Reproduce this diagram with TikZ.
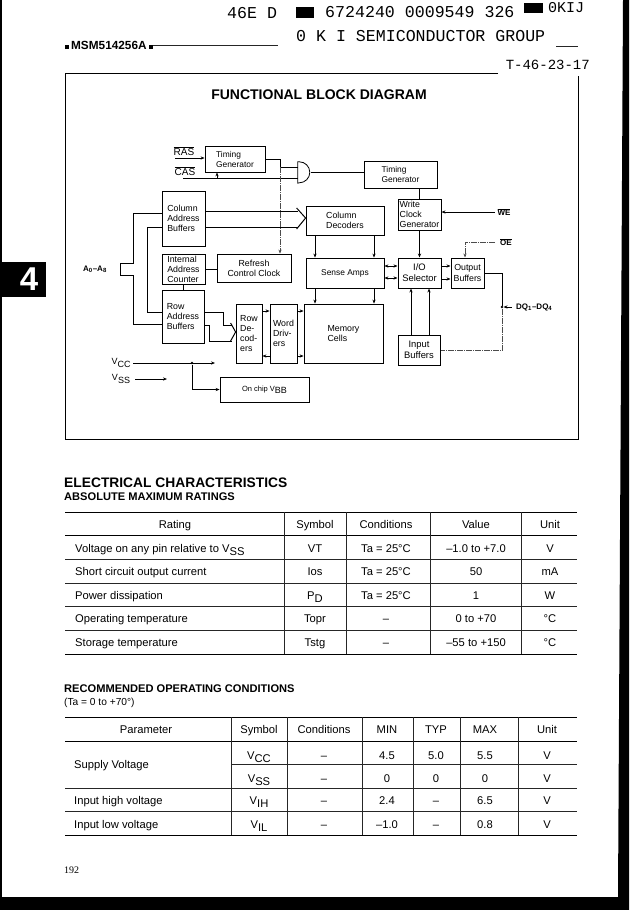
\documentclass[tikz,border=0pt]{standalone}
\usepackage{fontspec}
\setmainfont{Liberation Sans}
\newfontfamily\scanmono{Liberation Mono}
\newfontfamily\pagenum{Liberation Serif}
\usetikzlibrary{arrows.meta}
\newcommand{\lowsub}[2]{#1\raisebox{-0.28em}{#2}}
\begin{document}
\begin{tikzpicture}[
        x=1pt, y=-1pt,
        font=\footnotesize,
        >={Stealth[length=4pt,width=3.2pt]},
        block/.style={draw, line width=0.8pt, inner sep=0pt, align=left, font=\fontsize{8.8}{10}\selectfont},
        heavyblock/.style={block, line width=1pt},
        midblock/.style={align=center, font=\fontsize{9.4}{11}\selectfont},
        wire/.style={draw, line width=0.7pt},
        bus/.style={draw, line width=1pt},
        faintwire/.style={draw=black!70, line width=0.6pt, dash pattern=on 6pt off 1pt on 1pt off 1pt},
        pinlabel/.style={font=\bfseries\fontsize{8}{9}\selectfont},
        siglabel/.style={font=\fontsize{10}{11}\selectfont},
        powerlabel/.style={font=\fontsize{9}{10}\selectfont},
        dotnode/.style={circle, fill, inner sep=0pt, minimum size=2.6pt},
        scanline/.style={font=\scanmono\fontsize{16.6}{18}\selectfont, inner xsep=0pt},
        rule/.style={draw, line width=1pt},
        thinrule/.style={draw=black!85, line width=0.8pt},
        cell/.style={font=\fontsize{11.2}{12}\selectfont, inner sep=0pt, text height=8pt, text depth=0pt},
        leftcell/.style={cell, anchor=west},
        headnode/.style={anchor=west, inner xsep=0pt, font=\bfseries\fontsize{11.1}{13}\selectfont}
    ]
      \useasboundingbox (0,0) rectangle (629,910);

      % --- Scan edges and section tab ---
      \fill (0,0) rectangle (2,897);
      \fill (623,0) -- (629,0) -- (629,910) -- (0,910) -- (0,897) -- (618,897) -- cycle;
      \node[fill=black, text=white, minimum width=46pt, minimum height=35pt, inner sep=0pt, font=\bfseries\fontsize{33}{33}\selectfont] (tabfour) at (23,279.5) {\hspace*{12pt}4};

      % --- Header ---
      \node[scanline, anchor=west] (codeA) at (227,13) {46E D};
      \fill (296,7) rectangle (314,18);
      \node[scanline, anchor=west] (codeB) at (325,12) {6724240 0009549 326};
      \fill (524,3) rectangle (543,13);
      \node[scanline, anchor=west, font=\scanmono\fontsize{15}{18}\selectfont] (codeC) at (548,8) {0KIJ};
      \node[scanline, anchor=west] (groupname) at (296,36) {0 K I SEMICONDUCTOR GROUP};
      \draw[thinrule] (556,46) -- (578,46);
      \node[anchor=west, inner xsep=0pt, font=\bfseries\fontsize{11.8}{13}\selectfont] (partno) at (65,45) {\rule{4pt}{4pt}\,MSM514256A\,\rule{4pt}{4pt}};
      \draw[thinrule] (partno.east) -- (278,45);
      \node[scanline, anchor=east, font=\scanmono\fontsize{14}{16}\selectfont] (stamp) at (590,65) {T-46-23-17};

      % --- Diagram frame ---
      \draw[line width=0.9pt] (498,73) -- (65,73) -- (65,439) -- (578,439) -- (578,76);
      \node[font=\bfseries\fontsize{14}{16}\selectfont] (title) at (319,95) {FUNCTIONAL BLOCK DIAGRAM};

      % --- Blocks ---
      \node[block, minimum width=60pt, minimum height=26pt, font=\fontsize{8.4}{10}\selectfont] (timA) at (235,159) {Timing\\Generator};
      \node[block, minimum width=43pt, minimum height=55pt] (colbuf) at (183.5,218.5) {Column\\Address\\Buffers};
      \node[heavyblock, minimum width=43pt, minimum height=30pt] (intcnt) at (183.5,269) {Internal\\Address\\Counter};
      \node[block, minimum width=42pt, minimum height=53pt] (rowbuf) at (183,316.5) {Row\\Address\\Buffers};
      \node[block, minimum width=74pt, minimum height=28pt, align=center] (refresh) at (254,268) {Refresh\\Control Clock};
      \node[block, minimum width=78pt, minimum height=29pt] (coldec) at (345,220.5) {Column\\Decoders};
      \node[block, minimum width=73pt, minimum height=27pt, font=\fontsize{8.4}{10}\selectfont] (timB) at (400.5,174.5) {Timing\\Generator};
      \node[heavyblock, minimum width=43pt, minimum height=31pt] (writeclk) at (419.5,214.5) {Write\\Clock\\Generator};
      \node[block, minimum width=78pt, minimum height=30pt, font=\fontsize{8.4}{10}\selectfont] (sense) at (345,273) {Sense Amps};
      \node[heavyblock, midblock, minimum width=43pt, minimum height=30pt] (iosel) at (419.5,273) {I/O\\Selector};
      \node[heavyblock, midblock, minimum width=33pt, minimum height=30pt, font=\fontsize{8.8}{10.5}\selectfont] (outbuf) at (467.5,273) {Output\\Buffers};
      \node[block, minimum width=26pt, minimum height=59pt] (rowdec) at (249,333.5) {Row\\De-\\cod-\\ers};
      \node[block, minimum width=27pt, minimum height=59pt] (word) at (283.5,333.5) {Word\\Driv-\\ers};
      \node[block, minimum width=79pt, minimum height=59pt] (mem) at (343.5,333.5) {Memory\\Cells};
      \node[heavyblock, midblock, minimum width=42pt, minimum height=30pt] (inbuf) at (419,350) {Input\\Buffers};
      \node[block, minimum width=89pt, minimum height=25pt, font=\fontsize{7.5}{9}\selectfont] (onchip) at (264.5,389.5) {On chip V\raisebox{-0.25em}{\small BB}};
      \node[minimum width=12pt, minimum height=21pt, inner sep=0pt] (gate) at (304,172.5) {};
      \draw[line width=0.8pt] (gate.north west) -- ++(1.5,0) arc (-90:90:10.5) -- (gate.south west) -- cycle;

      % --- Pin labels ---
      \node[siglabel] (raslabel) at (184,151) {$\overline{\mbox{RAS}}$};
      \node[siglabel] (caslabel) at (185,171) {$\overline{\mbox{CAS}}$};
      \node[pinlabel] (welabel) at (504,212) {$\overline{\mbox{WE}}$};
      \node[pinlabel] (oelabel) at (506,242) {$\overline{\mbox{OE}}$};
      \node[pinlabel, anchor=west, inner xsep=0pt] (dqlabel) at (516,307) {DQ\textsubscript{1}--DQ\textsubscript{4}};
      \node[pinlabel] (addrlabel) at (95,269) {A\textsubscript{0}--A\textsubscript{8}};
      \node[powerlabel] (vcclabel) at (121,363) {\lowsub{V}{\small CC}};
      \node[powerlabel] (vsslabel) at (121,379) {\lowsub{V}{\small SS}};

      % --- Free line ends ---
      \coordinate (rasin) at (175,158);
      \coordinate (casin) at (183,178);
      \coordinate (casbranch) at (217,178);
      \coordinate (gatea) at (298,167);
      \coordinate (gateb) at (298,178);
      \coordinate (gateout) at (310.5,172.5);
      \coordinate (wein) at (495,212);
      \coordinate (oein) at (495,242);
      \coordinate (vccin) at (133,363);
      \coordinate (vccout) at (215,363);
      \coordinate (vssin) at (135,379);
      \coordinate (vssout) at (167,379);
      \node[dotnode] (vccdot) at (192,363) {};
      \node[dotnode] (dqdot) at (502,307) {};

      % --- Timing and control ---
      \draw[wire, ->] (rasin) -- (timA.west |- rasin);
      \draw[wire] (casin) -- (gateb);
      \draw[wire, ->] (casbranch) -- (casbranch |- timA.south);
      \draw[wire] (timA.east) -- (280,0 |- timA.east) -- (280,0 |- gatea) -- (gatea);
      \draw[wire] (gateout) -- (timB.west |- gateout);
      \draw[faintwire, ->] (280,0 |- gatea) -- (280,0 |- refresh.north);
      \draw[wire] (timB.south -| writeclk) -- (writeclk.north);
      \draw[wire, <-] (writeclk.east |- wein) -- (wein);
      \draw[faintwire, ->] (oein) -- (465,0 |- oein) -- (465,0 |- outbuf.north);
      \draw[wire, ->] (writeclk.south) -- (iosel.north);
      \draw[wire] (intcnt.east) -- (refresh.west |- intcnt.east);
      \draw[wire] (intcnt.south) -- (rowbuf.north -| intcnt);

      % --- Address lines ---
      \draw[bus] (120,263) -- (133,263) -- (133,213) -- (colbuf.west |- 0,213);
      \draw[bus] (120,275) -- (133,275) -- (133,324) -- (rowbuf.west |- 0,324);
      \draw[bus] (120,263) -- (120,275);
      \draw[bus] (colbuf.west |- 0,227) -- (147,227) -- (147,312) -- (rowbuf.west |- 0,312);

      % --- Column and row buses ---
      \draw[bus] (colbuf.east |- 0,211) -- (298,211);
      \draw[bus] (colbuf.east |- 0,227) -- (298,227);
      \draw[bus] ([shift={(-9,-12.5)}]coldec.west) -- ([yshift=2.5pt]coldec.west) -- ([shift={(-9,8.5)}]coldec.west);
      \draw[bus] (rowbuf.east |- 0,312) -- (223,312) -- (223,325) -- (232,325);
      \draw[bus] (rowbuf.east |- 0,325) -- (209,325) -- (209,341) -- (232,341);
      \draw[bus] ([shift={(-5,-10.5)}]rowdec.west) -- ([yshift=1.5pt]rowdec.west) -- ([shift={(-5,7.5)}]rowdec.west);

      % --- Data path ---
      \draw[wire, ->] (315,0 |- coldec.south) -- (315,0 |- sense.north);
      \draw[wire, ->] (374,0 |- coldec.south) -- (374,0 |- sense.north);
      \draw[wire, ->] (315,0 |- sense.south) -- (315,0 |- mem.north);
      \draw[wire, ->] (374,0 |- sense.south) -- (374,0 |- mem.north);
      \draw[wire, <->] (sense.east |- 0,266) -- (iosel.west |- 0,266);
      \draw[wire, <->] (sense.east |- 0,278) -- (iosel.west |- 0,278);
      \draw[wire, ->] (iosel.east |- 0,266) -- (outbuf.west |- 0,266);
      \draw[wire, ->] (iosel.east |- 0,279) -- (outbuf.west |- 0,279);
      \draw[wire, ->] (411,0 |- inbuf.north) -- (411,0 |- iosel.south);
      \draw[wire, ->] (429,0 |- inbuf.north) -- (429,0 |- iosel.south);
      \draw[wire] (outbuf.east) -- (dqdot |- outbuf.east) -- (dqdot);
      \draw[wire, <-] (dqdot) -- (512,307);
      \draw[faintwire] (dqdot) -- (dqdot |- inbuf.east) -- (inbuf.east);

      % --- Decoder to array ---
      \draw[wire, ->] (rowdec.east |- 0,311) -- (word.west |- 0,311);
      \draw[wire, <-] (rowdec.east |- 0,356) -- (word.west |- 0,356);
      \draw[wire, ->] (word.east |- 0,311) -- (mem.west |- 0,311);
      \draw[wire, ->] (word.east |- 0,356) -- (mem.west |- 0,356);

      % --- Power ---
      \draw[wire, ->] (vccin) -- (vccout);
      \draw[wire] (vccdot) -- (vccdot |- onchip.west);
      \draw[wire, ->] (vccdot |- onchip.west) -- (onchip.west);
      \draw[wire, ->] (vssin) -- (vssout);

      % --- Electrical characteristics ---
      \node[headnode, font=\bfseries\fontsize{13.8}{15}\selectfont] (elechead) at (64,483) {ELECTRICAL CHARACTERISTICS};
      \node[headnode] (abshead) at (64,497) {ABSOLUTE MAXIMUM RATINGS};

      \draw[rule] (65,512) -- (577,512);
      \draw[rule] (65,535.5) -- (577,535.5);
      \draw[thinrule] (65,559) -- (577,559);
      \draw[thinrule] (65,583) -- (577,583);
      \draw[thinrule] (65,606) -- (577,606);
      \draw[thinrule] (65,630) -- (577,630);
      \draw[rule] (65,654) -- (577,654);
      \draw[thinrule] (284,512) -- (284,654);
      \draw[thinrule] (346,512) -- (346,654);
      \draw[thinrule] (430,512) -- (430,654);
      \draw[thinrule] (521,512) -- (521,654);

      \node[cell] (hrating) at (175,524) {Rating};
      \node[cell] (hsymbol) at (315,524) {Symbol};
      \node[cell] (hcond) at (386,524) {Conditions};
      \node[cell] (hvalue) at (476,524) {Value};
      \node[cell] (hunit) at (550,524) {Unit};

      \node[leftcell] (ra) at (75,548) {Voltage on any pin relative to \lowsub{V}{SS}};
      \node[cell] (rb) at (315,548) {VT};
      \node[cell] (rc) at (386,548) {Ta = 25°C};
      \node[cell] (rd) at (476,548) {--1.0 to +7.0};
      \node[cell] (re) at (550,548) {V};

      \node[leftcell] (sa) at (75,571) {Short circuit output current};
      \node[cell] (sb) at (315,571) {Ios};
      \node[cell] (sc) at (386,571) {Ta = 25°C};
      \node[cell] (sd) at (476,571) {50};
      \node[cell] (se) at (550,571) {mA};

      \node[leftcell] (ta) at (75,595) {Power dissipation};
      \node[cell] (tb) at (315,595) {\lowsub{P}{D}};
      \node[cell] (tc) at (386,595) {Ta = 25°C};
      \node[cell] (td) at (476,595) {1};
      \node[cell] (te) at (550,595) {W};

      \node[leftcell] (ua) at (75,618) {Operating temperature};
      \node[cell] (ub) at (315,618) {Topr};
      \node[cell] (uc) at (386,618) {--};
      \node[cell] (ud) at (476,618) {0 to +70};
      \node[cell] (ue) at (550,618) {°C};

      \node[leftcell] (va) at (75,642) {Storage temperature};
      \node[cell] (vb) at (315,642) {Tstg};
      \node[cell] (vc) at (386,642) {--};
      \node[cell] (vd) at (476,642) {--55 to +150};
      \node[cell] (ve) at (550,642) {°C};

      % --- Recommended operating conditions ---
      \node[headnode] (rechead) at (64,689) {RECOMMENDED OPERATING CONDITIONS};
      \node[headnode, font=\fontsize{10.2}{12}\selectfont] (recnote) at (64,703) {(Ta = 0 to +70°)};

      \draw[rule] (65,717) -- (577,717);
      \draw[rule] (65,741) -- (577,741);
      \draw[thinrule] (231,764) -- (577,764);
      \draw[thinrule] (65,788) -- (577,788);
      \draw[thinrule] (65,811) -- (577,811);
      \draw[rule] (65,835) -- (577,835);
      \draw[thinrule] (231,717) -- (231,835);
      \draw[thinrule] (287,717) -- (287,835);
      \draw[thinrule] (362,717) -- (362,835);
      \draw[thinrule] (413,717) -- (413,835);
      \draw[thinrule] (460,717) -- (460,835);
      \draw[thinrule] (518,717) -- (518,835);

      \node[cell] (kparam) at (146,729) {Parameter};
      \node[cell] (ksymbol) at (259,729) {Symbol};
      \node[cell] (kcond) at (324,729) {Conditions};
      \node[cell] (kmin) at (387,729) {MIN};
      \node[cell] (ktyp) at (436,729) {TYP};
      \node[cell] (kmax) at (485,729) {MAX};
      \node[cell] (kunit) at (547,729) {Unit};

      \node[leftcell] (supply) at (74,764) {Supply Voltage};
      \node[cell] (mb) at (259,755) {\lowsub{V}{CC}};
      \node[cell] (mc) at (324,755) {--};
      \node[cell] (md) at (387,755) {4.5};
      \node[cell] (me) at (436,755) {5.0};
      \node[cell] (mf) at (485,755) {5.5};
      \node[cell] (mg) at (547,755) {V};

      \node[cell] (nb) at (259,778) {\lowsub{V}{SS}};
      \node[cell] (nc) at (324,778) {--};
      \node[cell] (nd) at (387,778) {0};
      \node[cell] (ne) at (436,778) {0};
      \node[cell] (nf) at (485,778) {0};
      \node[cell] (ng) at (547,778) {V};

      \node[leftcell] (pa) at (74,800) {Input high voltage};
      \node[cell] (pb) at (259,800) {\lowsub{V}{IH}};
      \node[cell] (pc) at (324,800) {--};
      \node[cell] (pd) at (387,800) {2.4};
      \node[cell] (pe) at (436,800) {--};
      \node[cell] (pf) at (485,800) {6.5};
      \node[cell] (pg) at (547,800) {V};

      \node[leftcell] (qa) at (74,824) {Input low voltage};
      \node[cell] (qb) at (259,824) {\lowsub{V}{IL}};
      \node[cell] (qc) at (324,824) {--};
      \node[cell] (qd) at (387,824) {--1.0};
      \node[cell] (qe) at (436,824) {--};
      \node[cell] (qf) at (485,824) {0.8};
      \node[cell] (qg) at (547,824) {V};

      % --- Page number ---
      \node[anchor=west, inner xsep=0pt, font=\pagenum\fontsize{10}{12}\selectfont] (pageno) at (64,870) {192};
    \end{tikzpicture}
\end{document}
